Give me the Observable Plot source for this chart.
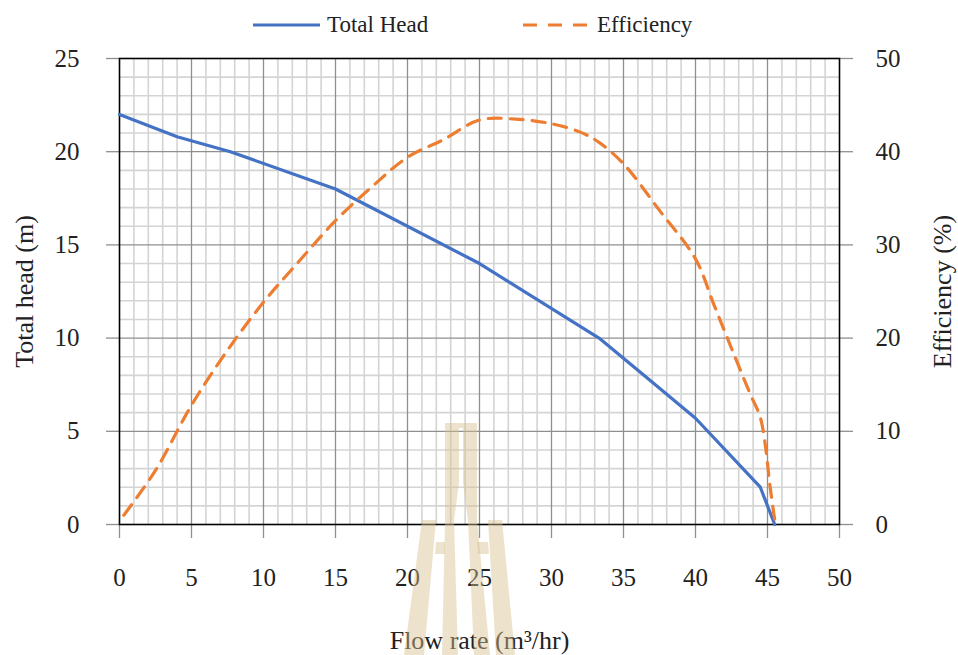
<!DOCTYPE html>
<html>
<head>
<meta charset="utf-8">
<script src="https://cdn.jsdelivr.net/npm/d3@7"></script>
<script src="https://cdn.jsdelivr.net/npm/@observablehq/plot@0.6"></script>
<style>
  html, body { margin: 0; padding: 0; background: #fff; }
  #wrap { position: relative; width: 958px; height: 655px; overflow: hidden; font-family: "Liberation Serif", "Times New Roman", serif; color: #222; }
  #legend { position: absolute; left: 0; top: 0; width: 958px; height: 50px; }
  .lg-text { position: absolute; top: 10px; font-size: 23px; line-height: 30px; white-space: nowrap; }
  #chart { position: absolute; left: 0; top: 0; }
  #logo { position: absolute; left: 400px; top: 420px; pointer-events: none; }
</style>
</head>
<body>
<div id="wrap">
  <div id="chart"></div>
  <svg id="logo" width="125" height="235" viewBox="0 0 125 235">
    <g fill="rgba(215,190,140,0.45)">
      <polygon points="45,3 77,3 77,8 45,8"/>
      <polygon points="45,8 59,8 59,63 54,100 45,100"/>
      <polygon points="63,8 77,8 77,100 68,100 63,63"/>
      <polygon points="22,100 36,100 24,235 4,235"/>
      <polygon points="36,122 45,122 45,134 35,134"/>
      <polygon points="45,100 54,100 58,235 42,235"/>
      <polygon points="68,100 77,100 90,235 74,235"/>
      <polygon points="77,122 88,122 89,134 78,134"/>
      <polygon points="88,100 102,100 115,235 96,235"/>
    </g>
  </svg>
  <div id="legend">
    <svg width="958" height="50" style="position:absolute;left:0;top:0">
      <line x1="253" x2="320" y1="25" y2="25" stroke="#4472C4" stroke-width="3"/>
      <line x1="523" x2="589" y1="25" y2="25" stroke="#ED7D31" stroke-width="3" stroke-dasharray="14,11"/>
    </svg>
    <div class="lg-text" style="left:327px">Total Head</div>
    <div class="lg-text" style="left:597px">Efficiency</div>
  </div>
</div>
<script>
// ---- data ----
const headFlow = [0, 4, 7.7, 15, 25, 33.3, 36.9, 40, 44.5, 45.5];
const headValues = [22, 20.8, 20, 18, 14, 10, 7.7, 5.7, 2, 0];

const effFlow = [0.3, 2.5, 5, 7.5, 10, 12.5, 15, 17.5, 20, 22.5, 25, 27.5, 30, 32, 33.3, 35, 37.5, 40, 41.25, 42.5, 43.8, 44.5, 44.9, 45.15, 45.55];
const effValues = [1, 5.8, 12.8, 18.7, 23.85, 28.3, 32.6, 36.2, 39.4, 41.3, 43.4, 43.5, 43.0, 42.1, 41.0, 38.7, 33.7, 28.5, 23.7, 18.9, 14, 11.5, 7.9, 4.4, 0];

const xTicks = [0, 5, 10, 15, 20, 25, 30, 35, 40, 45, 50];
const headTicks = [0, 5, 10, 15, 20, 25];
const effTicks = [0, 10, 20, 30, 40, 50];
const minorX = d3.range(1, 50).filter(v => v % 5 !== 0);
const minorY = d3.range(1, 25).filter(v => v % 5 !== 0);
const majorX = [5, 10, 15, 20, 25, 30, 35, 40, 45];
const majorY = [5, 10, 15, 20];

const headData = headFlow.map((f, i) => ({flow: f, value: headValues[i]}));
// efficiency (0–50 %) drawn against the head scale (0–25), right axis relabelled
const effRatio = effTicks[effTicks.length - 1] / headTicks[headTicks.length - 1];
const effData = effFlow.map((f, i) => ({flow: f, value: effValues[i] / effRatio}));

const chart = Plot.plot({
  width: 958,
  height: 655,
  marginTop: 58,
  marginBottom: 131,
  marginLeft: 119,
  marginRight: 119,
  x: {domain: [0, 50], label: null},
  y: {domain: [0, 25], label: null},
  style: {fontFamily: "'Liberation Serif', 'Times New Roman', serif", fontSize: "25px", color: "#222", background: "transparent", overflow: "visible"},
  marks: [
    Plot.ruleX(minorX, {stroke: "#d4d4d4", strokeWidth: 1.6}),
    Plot.ruleY(minorY, {stroke: "#d4d4d4", strokeWidth: 1.6}),
    Plot.ruleX(majorX, {stroke: "#8f8f8f", strokeWidth: 1.3}),
    Plot.ruleY(majorY, {stroke: "#8f8f8f", strokeWidth: 1.3}),
    Plot.axisX(xTicks, {tickSize: 14, tickPadding: 30, stroke: "#8f8f8f", strokeWidth: 1.3, fill: "#222", fontSize: 25, label: null}),
    Plot.axisY(headTicks, {anchor: "left", tickSize: 13, tickPadding: 27, stroke: "#8f8f8f", strokeWidth: 1.3, fill: "#222", fontSize: 25, label: null}),
    Plot.axisY(headTicks, {anchor: "right", tickSize: 13, tickPadding: 23, stroke: "#8f8f8f", strokeWidth: 1.3, fill: "#222", fontSize: 25, label: null,
      tickFormat: d => String(effTicks[headTicks.indexOf(d)])}),
    Plot.frame({stroke: "#000", strokeWidth: 1.6}),
    Plot.line(headData, {x: "flow", y: "value", stroke: "#4472C4", strokeWidth: 3.2}),
    Plot.line(effData, {x: "flow", y: "value", stroke: "#ED7D31", strokeWidth: 3.2, strokeDasharray: "13,9", curve: "catmull-rom"}),
    Plot.text(["Total head (m)"], {frameAnchor: "left", dx: -95, rotate: -90, text: d => d, fontSize: 26, fill: "#222", textAnchor: "middle", lineAnchor: "middle"}),
    Plot.text(["Efficiency (%)"], {frameAnchor: "right", dx: 103, rotate: -90, text: d => d, fontSize: 26, fill: "#222", textAnchor: "middle", lineAnchor: "middle"}),
    Plot.text(["Flow rate (m³/hr)"], {frameAnchor: "bottom", dy: 116, text: d => d, fontSize: 26, fill: "#222", textAnchor: "middle", lineAnchor: "middle"})
  ]
});
document.getElementById("chart").appendChild(chart);
</script>
</body>
</html>
